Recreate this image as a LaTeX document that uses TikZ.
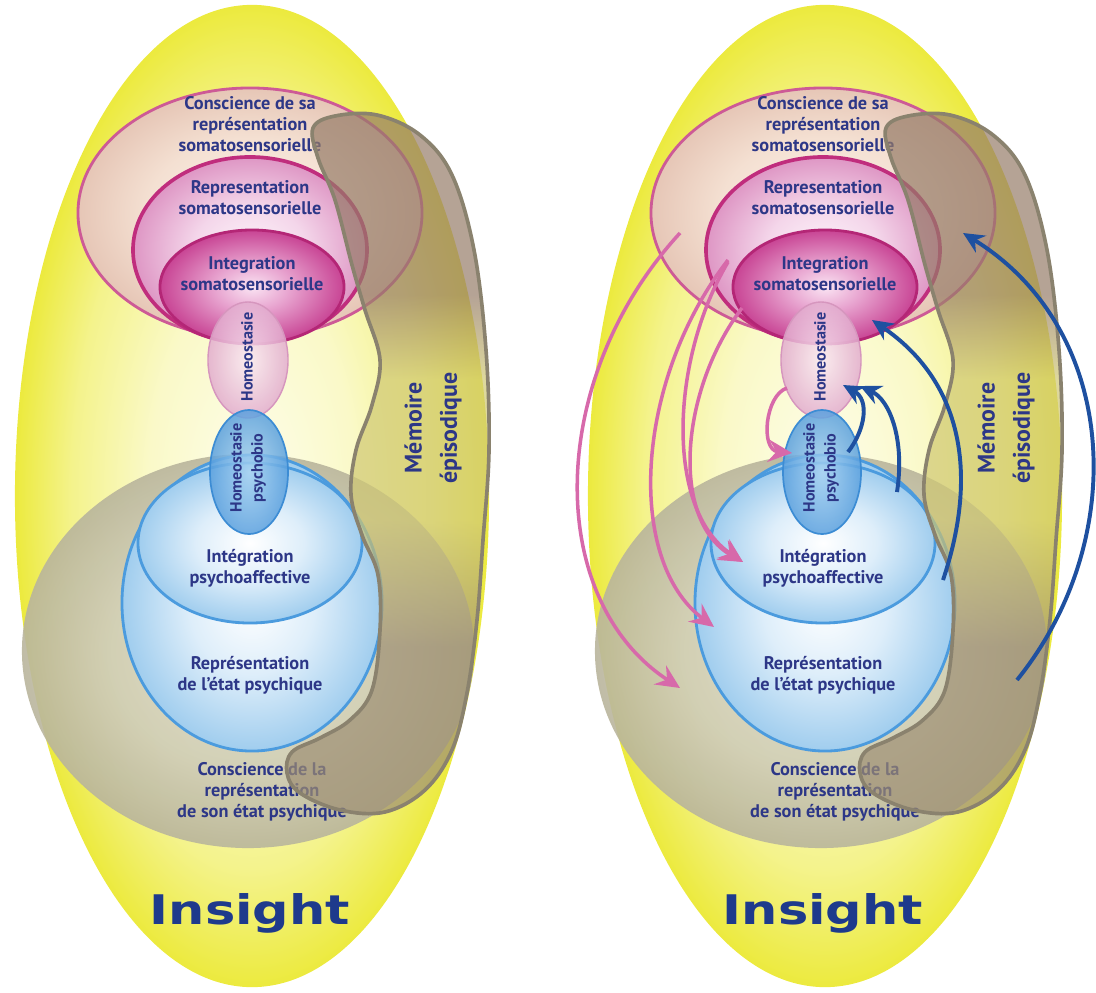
\documentclass[tikz,border=0pt]{standalone}
\usepackage{fontspec}
\usepackage{graphicx}
\setmainfont{PT Sans}
\newfontfamily\heavyfont{DejaVu Sans}
\usetikzlibrary{shapes.geometric,arrows.meta}

\definecolor{textblue}{RGB}{45,55,135}
\definecolor{insightblue}{RGB}{30,58,140}
\definecolor{arrowpink}{RGB}{215,105,170}
\definecolor{arrowblue}{RGB}{30,80,160}
\definecolor{yel0}{RGB}{253,253,235}
\definecolor{yel1}{RGB}{250,249,200}
\definecolor{yel2}{RGB}{244,243,140}
\definecolor{yel3}{RGB}{236,234,62}
\definecolor{gray0}{RGB}{226,224,206}
\definecolor{gray1}{RGB}{207,204,183}
\definecolor{gray2}{RGB}{185,181,156}
\definecolor{blu0}{RGB}{255,255,255}
\definecolor{blu1}{RGB}{222,238,250}
\definecolor{blu2}{RGB}{160,205,238}
\definecolor{bluline}{RGB}{75,155,222}
\definecolor{pbio0}{RGB}{170,212,242}
\definecolor{pbio1}{RGB}{90,160,222}
\definecolor{pbioline}{RGB}{60,140,212}
\definecolor{cons0}{RGB}{252,242,235}
\definecolor{cons1}{RGB}{244,224,210}
\definecolor{cons2}{RGB}{230,198,182}
\definecolor{consline}{RGB}{205,90,150}
\definecolor{rep0}{RGB}{253,244,250}
\definecolor{rep1}{RGB}{244,214,234}
\definecolor{rep2}{RGB}{222,150,196}
\definecolor{repline}{RGB}{192,45,125}
\definecolor{int0}{RGB}{250,228,243}
\definecolor{int1}{RGB}{232,165,208}
\definecolor{int2}{RGB}{200,68,148}
\definecolor{intline}{RGB}{180,38,118}
\definecolor{hom0}{RGB}{250,234,243}
\definecolor{hom1}{RGB}{226,172,206}
\definecolor{homline}{RGB}{214,150,190}
\definecolor{blobtop}{RGB}{150,124,104}
\definecolor{blobmid}{RGB}{208,200,115}
\definecolor{blobbot}{RGB}{158,143,116}
\definecolor{blobline}{RGB}{138,130,110}

\pgfdeclareradialshading{yellowglow}{\pgfpoint{0bp}{0bp}}{color(0bp)=(yel0); color(11bp)=(yel1); color(19bp)=(yel2); color(25bp)=(yel3); color(50bp)=(yel3)}
\pgfdeclareradialshading{grayglow}{\pgfpoint{0bp}{0bp}}{color(0bp)=(gray0); color(15bp)=(gray1); color(25bp)=(gray2); color(50bp)=(gray2)}
\pgfdeclareradialshading{bluesphere}{\pgfpoint{0bp}{0bp}}{color(0bp)=(blu0); color(12bp)=(blu1); color(25bp)=(blu2); color(50bp)=(blu2)}
\pgfdeclareradialshading{bioglow}{\pgfpoint{0bp}{0bp}}{color(0bp)=(pbio0); color(25bp)=(pbio1); color(50bp)=(pbio1)}
\pgfdeclareradialshading{consglow}{\pgfpoint{0bp}{0bp}}{color(0bp)=(cons0); color(15bp)=(cons1); color(25bp)=(cons2); color(50bp)=(cons2)}
\pgfdeclareradialshading{repglow}{\pgfpoint{0bp}{0bp}}{color(0bp)=(rep0); color(12bp)=(rep1); color(25bp)=(rep2); color(50bp)=(rep2)}
\pgfdeclareradialshading{intglow}{\pgfpoint{0bp}{0bp}}{color(0bp)=(int0); color(10bp)=(int1); color(25bp)=(int2); color(50bp)=(int2)}
\pgfdeclareradialshading{homglow}{\pgfpoint{0bp}{0bp}}{color(0bp)=(hom0); color(25bp)=(hom1); color(50bp)=(hom1)}
\pgfdeclareverticalshading{blobshade}{100bp}{color(0bp)=(blobbot); color(37bp)=(blobbot); color(46bp)=(blobmid); color(56bp)=(blobmid); color(62bp)=(blobtop); color(100bp)=(blobtop)}

\tikzset{
  zone/.style={ellipse, inner sep=0pt, shade},
  lbl/.style={text=textblue, align=center, font=\bfseries\fontsize{13}{15}\selectfont},
  lblturn/.style={lbl, rotate=90, font=\bfseries\fontsize{11.5}{15}\selectfont},
  blob/.style={draw=blobline, line width=2.6pt, shade, shading=blobshade, fill opacity=.7},
  pinkarrow/.style={arrowpink, line width=2.5pt, -{Stealth[length=17pt,width=16pt,inset=6pt]}},
  bluearrow/.style={arrowblue, line width=2.8pt, -{Stealth[length=15pt,width=14pt,inset=5pt]}},
}

\begin{document}
\begin{tikzpicture}[x=0.025cm, y=-0.025cm]
\useasboundingbox (0,0) rectangle (1096,992) ;
\foreach \dx/\p in {0/L,573/R} {
\begin{scope}[shift={(\dx,0)}]
  % background zones
  \node (bulb\p)[zone, shading=yellowglow, minimum width=11.85cm, minimum height=24.55cm] at (252,496) {} ;
  \node (halo\p)[zone, shading=grayglow, fill opacity=.9, minimum width=11.3cm, minimum height=9.85cm] at (248,651) {} ;
  % psychic side
  \node (etat\p)[zone, shading=bluesphere, draw=bluline, line width=2pt, minimum width=6.5cm, minimum height=7.4cm] at (252,603) {} ;
  \node (psyaff\p)[zone, shading=bluesphere, draw=bluline, line width=2pt, minimum width=5.6cm, minimum height=4cm] at (250,543) {} ;
  % somatic side
  \node (consc\p)[zone, shading=consglow, draw=consline, line width=2pt, minimum width=8.6cm, minimum height=6.25cm] at (250,213) {} ;
  \node (repr\p)[zone, shading=repglow, draw=repline, line width=2.6pt, minimum width=5.85cm, minimum height=4.65cm] at (250,250) {} ;
  \node (integ\p)[zone, shading=intglow, draw=intline, line width=2pt, minimum width=4.6cm, minimum height=2.85cm] at (252,287) {} ;
  \node (homeo\p)[zone, shading=homglow, draw=homline, line width=1pt, fill opacity=.85, minimum width=2cm, minimum height=2.9cm] at (248,360) {} ;
  \node (psybio\p)[zone, shading=bioglow, draw=pbioline, line width=1.2pt, fill opacity=.85, minimum width=1.95cm, minimum height=3.1cm] at (249,472) {} ;
  % labels
  \node (t-consc\p)[lbl] at (250,124) {Conscience de sa\\représentation\\somatosensorielle} ;
  \node (t-repr\p)[lbl] at (250,198) {Representation\\somatosensorielle} ;
  \node (t-integ\p)[lbl] at (252,274) {Integration\\somatosensorielle} ;
  \node (t-homeo\p)[lblturn] at (247,357) {Homeostasie} ;
  \node (t-psybio\p)[lblturn] at (248,468) {Homeostasie\\psychobio} ;
  \node (t-psyaff\p)[lbl] at (250,568) {Intégration\\psychoaffective} ;
  \node (t-etat\p)[lbl] at (250,675) {Représentation\\de l'état psychique} ;
  \node (t-halo\p)[lbl] at (262,792) {Conscience de la\\représentation\\de son état psychique} ;
  % memoire episodique
  \draw[blob] plot[smooth cycle, tension=.6] coordinates {(313,128) (335,116) (377,115) (420,135) (452,175) (474,250) (486,350) (489,450) (483,540) (477,620) (467,693) (452,750) (425,790) (385,812) (340,810) (300,793) (287,773) (292,752) (320,738) (350,720) (372,690) (380,630) (378,575) (362,535) (351,495) (356,450) (372,405) (380,360) (365,310) (352,265) (335,200) (318,158)} ;
  \node (memo\p)[lbl, rotate=90, font=\bfseries\fontsize{17}{25}\selectfont] at (433,428) {Mémoire\\épisodique} ;
  \node (insight\p)[text=insightblue, font=\heavyfont\bfseries\fontsize{29}{30}\selectfont] at (250,913) {\scalebox{1.25}[1]{Insight}} ;
\end{scope}
}
% arrows of the right diagram
\coordinate (p1s) at (680,233) ; \coordinate (p1e) at (680,688) ;
\coordinate (p2s) at (728,260) ; \coordinate (p2e) at (714,627) ;
\coordinate (p3s) at (728,262) ; \coordinate (p3e) at (743,562) ;
\coordinate (p4s) at (742,308) ;
\coordinate (p5s) at (787,388) ; \coordinate (p5e) at (792,453) ;
\coordinate (b1s) at (848,452) ; \coordinate (b1e) at (843,385) ;
\coordinate (b2s) at (897,492) ; \coordinate (b2e) at (860,386) ;
\coordinate (b3s) at (943,580) ; \coordinate (b3e) at (872,320) ;
\coordinate (b4s) at (1017,680) ; \coordinate (b4e) at (963,233) ;
\draw[pinkarrow] (p1s) .. controls (545,380) and (545,600) .. (p1e) ;
\draw[pinkarrow] (p2s) .. controls (635,380) and (625,560) .. (p2e) ;
\draw[pinkarrow] (p3s) .. controls (670,360) and (665,510) .. (p3e) ;
\draw[pinkarrow] (p4s) .. controls (680,390) and (670,520) .. (p3e) ;
\draw[pinkarrow] (p5s) .. controls (765,395) and (760,450) .. (p5e) ;
\draw[bluearrow] (b1s) .. controls (865,430) and (870,400) .. (b1e) ;
\draw[bluearrow] (b2s) .. controls (905,440) and (890,400) .. (b2e) ;
\draw[bluearrow] (b3s) .. controls (980,470) and (960,380) .. (b3e) ;
\draw[bluearrow] (b4s) .. controls (1130,540) and (1120,330) .. (b4e) ;
\end{tikzpicture}
\end{document}
